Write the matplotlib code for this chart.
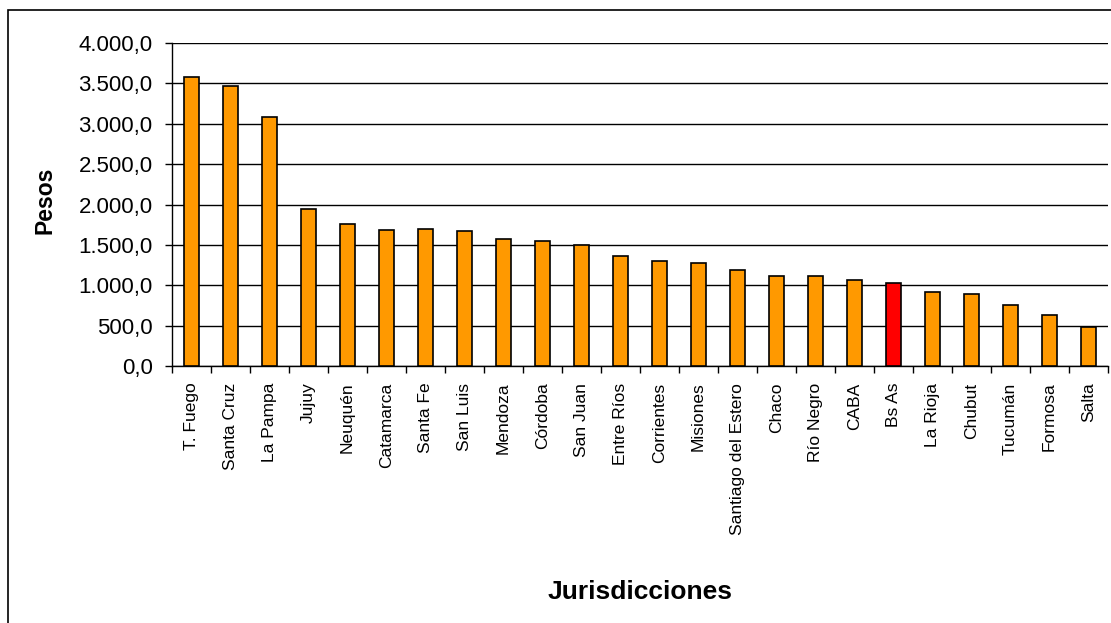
import matplotlib
matplotlib.use("Agg")
import matplotlib.pyplot as plt
from matplotlib.patches import Rectangle
from matplotlib.ticker import FuncFormatter

plt.rcParams['font.family'] = ['Liberation Sans', 'DejaVu Sans']

jurisdicciones = ["T. Fuego", "Santa Cruz", "La Pampa", "Jujuy", "Neuquén",
                  "Catamarca", "Santa Fe", "San Luis", "Mendoza", "Córdoba",
                  "San Juan", "Entre Ríos", "Corrientes", "Misiones",
                  "Santiago del Estero", "Chaco", "Río Negro", "CABA", "Bs As",
                  "La Rioja", "Chubut", "Tucumán", "Formosa", "Salta"]
pesos = [3579, 3467, 3080, 1948, 1755, 1690, 1692, 1677, 1578, 1546, 1504,
         1360, 1306, 1273, 1194, 1112, 1112, 1062, 1029, 917, 888, 756, 628, 483]
destacada = "Bs As"


def miles(v, pos):
    # 1234.5 -> "1.234,5"
    s = "{:,.1f}".format(v)
    return s.replace(",", "X").replace(".", ",").replace("X", ".")


W, H = 1111, 623
fig = plt.figure(figsize=(W / 100, H / 100), dpi=100)
ax = fig.add_axes([172 / W, 1 - 366 / H, 936 / W, 323 / H])

colores = ["#FF0000" if j == destacada else "#FF9900" for j in jurisdicciones]
x = range(len(jurisdicciones))
ax.bar(x, pesos, width=0.4, color=colores, edgecolor="black", linewidth=1.2, zorder=3)

n = len(jurisdicciones)
ax.set_xlim(-0.5, n - 0.5)
ax.set_ylim(0, 4000)
ax.set_yticks(range(0, 4001, 500))
ax.yaxis.set_major_formatter(FuncFormatter(miles))
ax.set_xticks(x)
ax.set_xticklabels(jurisdicciones, rotation=90, fontsize=12.5, va="top", ha="center")
# ticks between categories, like the spreadsheet chart
ax.set_xticks([i - 0.5 for i in range(n + 1)], minor=True)
ax.tick_params(axis="x", which="major", length=0, pad=12)
ax.tick_params(axis="x", which="minor", length=5, width=1, color="black")
ax.tick_params(axis="y", length=5, width=1, pad=9, labelsize=16)

ax.grid(axis="y", color="black", linewidth=1, zorder=0)
ax.spines["top"].set_visible(False)
ax.spines["right"].set_visible(False)
ax.spines["left"].set_linewidth(1)
ax.spines["bottom"].set_linewidth(1)

fig.text(45 / W, 1 - 200 / H, "Pesos", rotation=90, fontsize=16.5, fontweight="bold",
         ha="center", va="center")
fig.text(640 / W, 1 - 592 / H, "Jurisdicciones", fontsize=19, fontweight="bold",
         ha="center", va="center")

# frame around the whole chart
fig.patches.append(Rectangle((8 / W, -0.1), 1.2, 1.1 - 10 / H, transform=fig.transFigure,
                             fill=False, edgecolor="black", linewidth=1.2))

fig.savefig("out.png", dpi=100)
